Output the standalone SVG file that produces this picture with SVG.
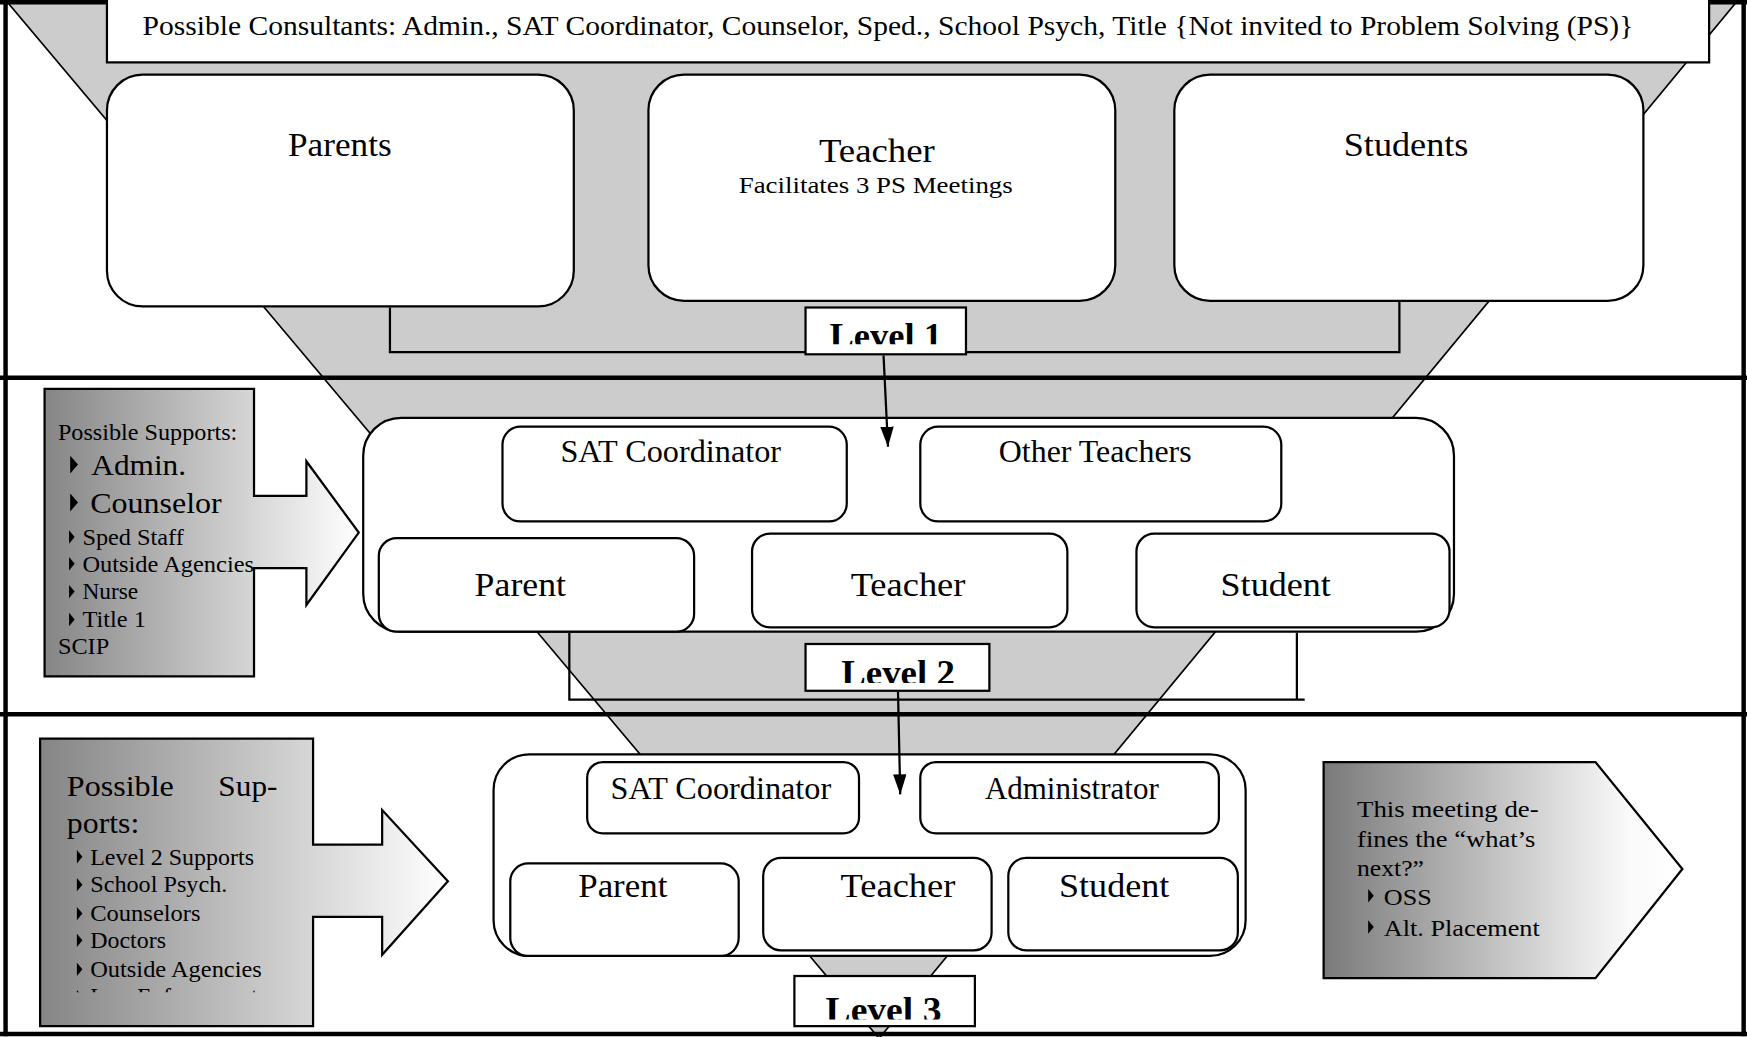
<svg xmlns="http://www.w3.org/2000/svg" width="1747" height="1037" viewBox="0 0 1747 1037">
<style>
.t{font-family:"Liberation Serif","Times New Roman",serif;fill:#000}
.b{font-weight:bold}
.box{fill:#fff;stroke:#000;stroke-width:2}
.ln{fill:none;stroke:#000;stroke-width:2}
.frame{stroke:#000;stroke-width:4}
.bul{fill:#000}
.arr{stroke:#000;stroke-width:2;marker-end:url(#ah)}
</style>
<defs>
<linearGradient id="g1" x1="0" y1="0" x2="1" y2="0">
<stop offset="0" stop-color="#858585"/>
<stop offset="1" stop-color="#ffffff"/>
</linearGradient>
<linearGradient id="g2" x1="0" y1="0" x2="1" y2="0">
<stop offset="0" stop-color="#7a7a7a"/>
<stop offset="0.85" stop-color="#fafafa"/>
<stop offset="1" stop-color="#ffffff"/>
</linearGradient>
<marker id="ah" viewBox="0 0 18 12" refX="18" refY="6" markerWidth="18" markerHeight="12" markerUnits="userSpaceOnUse" orient="auto">
<path d="M0,0 L18,6 L0,12 z" fill="#000"/>
</marker>
<clipPath id="c1"><rect x="724" y="277" width="142" height="32"/></clipPath>
<clipPath id="c2"><rect x="724" y="579" width="163" height="34"/></clipPath>
<clipPath id="c3"><rect x="714" y="877" width="160" height="38"/></clipPath>
<clipPath id="c4"><rect x="36" y="663" width="245" height="228"/></clipPath>
</defs>
<rect width="1747" height="1037" fill="#fff"/>
<g transform="scale(1.11416)">
<g id="funnel">
<polygon points="5,0 1560,0 789,932" fill="#cccccc" stroke="#000" stroke-width="1.5"/>
</g>
<g id="frame">
<line class="frame" x1="0" y1="2" x2="1568" y2="2"/>
<line class="frame" x1="5" y1="0" x2="5" y2="930"/>
<line class="frame" x1="1565" y1="0" x2="1565" y2="930"/>
<line class="frame" x1="0" y1="928" x2="1568" y2="928"/>
<line class="frame" x1="0" y1="339" x2="1568" y2="339"/>
<line class="frame" x1="0" y1="641" x2="1568" y2="641"/>
</g>
<g id="consultants">
<rect class="box" x="96" y="-2" width="1438" height="58"/>
<text class="t" x="128" y="31" font-size="24" textLength="1338" lengthAdjust="spacingAndGlyphs">Possible Consultants: Admin., SAT Coordinator, Counselor, Sped., School Psych, Title {Not invited to Problem Solving (PS)}</text>
</g>
<g id="parents">
<rect class="box" x="96" y="67" width="419" height="208" rx="32"/>
<text class="t" x="305" y="140" font-size="30" text-anchor="middle" textLength="93" lengthAdjust="spacingAndGlyphs">Parents</text>
</g>
<g id="teacher1">
<rect class="box" x="582" y="67" width="419" height="203" rx="32"/>
<text class="t" x="787" y="145" font-size="30" text-anchor="middle" textLength="104" lengthAdjust="spacingAndGlyphs">Teacher</text>
<text class="t" x="786" y="173" font-size="21" text-anchor="middle" textLength="246" lengthAdjust="spacingAndGlyphs">Facilitates 3 PS Meetings</text>
</g>
<g id="students1">
<rect class="box" x="1054" y="67" width="421" height="203" rx="32"/>
<text class="t" x="1262" y="140" font-size="30" text-anchor="middle" textLength="112" lengthAdjust="spacingAndGlyphs">Students</text>
</g>
<g id="level1">
<rect class="box" x="723" y="276" width="144" height="42"/>
<text class="t b" x="795" y="312" font-size="33" text-anchor="middle" clip-path="url(#c1)" textLength="101" lengthAdjust="spacingAndGlyphs">Level 1</text>
</g>
<g id="supports2">
<path d="M40,349 H228 V445 H275 V414 L322,478 L275,543 V510 H228 V607 H40 Z" fill="url(#g1)" stroke="#000" stroke-width="2"/>
<text class="t" x="52" y="395" font-size="20" textLength="161" lengthAdjust="spacingAndGlyphs">Possible Supports:</text>
<polygon class="bul" points="63,409 70,417 63,425"/>
<text class="t" x="82" y="426" font-size="27" textLength="85" lengthAdjust="spacingAndGlyphs">Admin.</text>
<polygon class="bul" points="63,443 70,451 63,459"/>
<text class="t" x="81" y="460" font-size="27" textLength="118" lengthAdjust="spacingAndGlyphs">Counselor</text>
<polygon class="bul" points="62,476 67,482 62,488"/>
<text class="t" x="74" y="489" font-size="20" textLength="91" lengthAdjust="spacingAndGlyphs">Sped Staff</text>
<polygon class="bul" points="62,500 67,506 62,512"/>
<text class="t" x="74" y="513" font-size="20" textLength="154" lengthAdjust="spacingAndGlyphs">Outside Agencies</text>
<polygon class="bul" points="62,525 67,531 62,537"/>
<text class="t" x="74" y="538" font-size="20" textLength="50" lengthAdjust="spacingAndGlyphs">Nurse</text>
<polygon class="bul" points="62,550 67,556 62,562"/>
<text class="t" x="74" y="563" font-size="20" textLength="57" lengthAdjust="spacingAndGlyphs">Title 1</text>
<text class="t" x="52" y="587" font-size="20" textLength="46" lengthAdjust="spacingAndGlyphs">SCIP</text>
</g>
<g id="level2-group">
<rect class="box" x="326" y="375" width="979" height="192" rx="34"/>
</g>
<g id="sat2">
<rect class="box" x="451" y="383" width="309" height="85" rx="16"/>
<text class="t" x="602" y="415" font-size="28" text-anchor="middle" textLength="198" lengthAdjust="spacingAndGlyphs">SAT Coordinator</text>
</g>
<g id="otherteachers">
<rect class="box" x="826" y="383" width="324" height="85" rx="16"/>
<text class="t" x="983" y="415" font-size="28" text-anchor="middle" textLength="173" lengthAdjust="spacingAndGlyphs">Other Teachers</text>
</g>
<g id="parent2">
<rect class="box" x="340" y="483" width="283" height="84" rx="16"/>
<text class="t" x="467" y="535" font-size="31" text-anchor="middle" textLength="82" lengthAdjust="spacingAndGlyphs">Parent</text>
</g>
<g id="teacher2">
<rect class="box" x="675" y="479" width="283" height="84" rx="16"/>
<text class="t" x="815" y="535" font-size="31" text-anchor="middle" textLength="103" lengthAdjust="spacingAndGlyphs">Teacher</text>
</g>
<g id="student2">
<rect class="box" x="1020" y="479" width="281" height="84" rx="16"/>
<text class="t" x="1145" y="535" font-size="31" text-anchor="middle" textLength="99" lengthAdjust="spacingAndGlyphs">Student</text>
</g>
<g id="level2">
<rect class="box" x="723" y="578" width="165" height="42"/>
<text class="t b" x="806" y="615" font-size="33" text-anchor="middle" clip-path="url(#c2)" textLength="102" lengthAdjust="spacingAndGlyphs">Level 2</text>
</g>
<g id="supports3">
<path d="M36,663 H281 V758 H343 V727 L402,791 L343,857 V823 H281 V921 H36 Z" fill="url(#g1)" stroke="#000" stroke-width="2"/>
<text class="t" x="60" y="714" font-size="27" textLength="96" lengthAdjust="spacingAndGlyphs">Possible</text>
<text class="t" x="196" y="714" font-size="27" textLength="53" lengthAdjust="spacingAndGlyphs">Sup-</text>
<text class="t" x="60" y="748" font-size="27" textLength="65" lengthAdjust="spacingAndGlyphs">ports:</text>
<polygon class="bul" points="69,763 74,769 69,775"/>
<text class="t" x="81" y="776" font-size="20" textLength="147" lengthAdjust="spacingAndGlyphs">Level 2 Supports</text>
<polygon class="bul" points="69,788 74,794 69,800"/>
<text class="t" x="81" y="801" font-size="20" textLength="123" lengthAdjust="spacingAndGlyphs">School Psych.</text>
<polygon class="bul" points="69,814 74,820 69,826"/>
<text class="t" x="81" y="827" font-size="20" textLength="99" lengthAdjust="spacingAndGlyphs">Counselors</text>
<polygon class="bul" points="69,838 74,844 69,850"/>
<text class="t" x="81" y="851" font-size="20" textLength="68" lengthAdjust="spacingAndGlyphs">Doctors</text>
<polygon class="bul" points="69,864 74,870 69,876"/>
<text class="t" x="81" y="877" font-size="20" textLength="154" lengthAdjust="spacingAndGlyphs">Outside Agencies</text>
<g clip-path="url(#c4)" transform="translate(0,-0.5)">
<polygon class="bul" points="69,889 74,895 69,901"/>
<text class="t" x="81" y="902" font-size="20" textLength="150" lengthAdjust="spacingAndGlyphs">Law Enforcement</text>
</g>
</g>
<g id="level3-group">
<rect class="box" x="443" y="677" width="675" height="181" rx="32"/>
</g>
<g id="sat3">
<rect class="box" x="527" y="684" width="244" height="64" rx="14"/>
<text class="t" x="647" y="717" font-size="28" text-anchor="middle" textLength="198" lengthAdjust="spacingAndGlyphs">SAT Coordinator</text>
</g>
<g id="administrator">
<rect class="box" x="826" y="684" width="268" height="64" rx="14"/>
<text class="t" x="962" y="717" font-size="28" text-anchor="middle" textLength="156" lengthAdjust="spacingAndGlyphs">Administrator</text>
</g>
<g id="parent3">
<rect class="box" x="458" y="775" width="205" height="83" rx="16"/>
<text class="t" x="559" y="805" font-size="30" text-anchor="middle" textLength="80" lengthAdjust="spacingAndGlyphs">Parent</text>
</g>
<g id="teacher3">
<rect class="box" x="685" y="770" width="205" height="83" rx="16"/>
<text class="t" x="806" y="805" font-size="30" text-anchor="middle" textLength="103" lengthAdjust="spacingAndGlyphs">Teacher</text>
</g>
<g id="student3">
<rect class="box" x="905" y="770" width="206" height="83" rx="16"/>
<text class="t" x="1000" y="805" font-size="30" text-anchor="middle" textLength="99" lengthAdjust="spacingAndGlyphs">Student</text>
</g>
<g id="level3">
<rect class="box" x="713" y="876" width="162" height="45"/>
<text class="t b" x="793" y="917" font-size="33" text-anchor="middle" clip-path="url(#c3)" textLength="104" lengthAdjust="spacingAndGlyphs">Level 3</text>
</g>
<g id="whatsnext">
<path d="M1188,684 H1432 L1510,780 L1432,878 H1188 Z" fill="url(#g2)" stroke="#000" stroke-width="2"/>
<text class="t" x="1218" y="733" font-size="21" textLength="163" lengthAdjust="spacingAndGlyphs">This meeting de-</text>
<text class="t" x="1218" y="760" font-size="21" textLength="160" lengthAdjust="spacingAndGlyphs">fines the “what’s</text>
<text class="t" x="1218" y="786" font-size="21" textLength="60" lengthAdjust="spacingAndGlyphs">next?”</text>
<polygon class="bul" points="1228,798 1233,804 1228,810"/>
<text class="t" x="1242" y="812" font-size="21" textLength="43" lengthAdjust="spacingAndGlyphs">OSS</text>
<polygon class="bul" points="1228,826 1233,832 1228,838"/>
<text class="t" x="1242" y="840" font-size="21" textLength="140" lengthAdjust="spacingAndGlyphs">Alt. Placement</text>
</g>
<g id="connectors">
<polyline class="ln" points="350,276 350,316 723,316"/>
<polyline class="ln" points="867,316 1256,316 1256,271"/>
<polyline class="ln" points="511,568 511,628 1171,628"/>
<line class="ln" x1="1164" y1="568" x2="1164" y2="628"/>
<line class="arr" x1="793" y1="319" x2="797" y2="401"/>
<line class="arr" x1="806" y1="621" x2="808" y2="713"/>
</g>
</g>
</svg>
